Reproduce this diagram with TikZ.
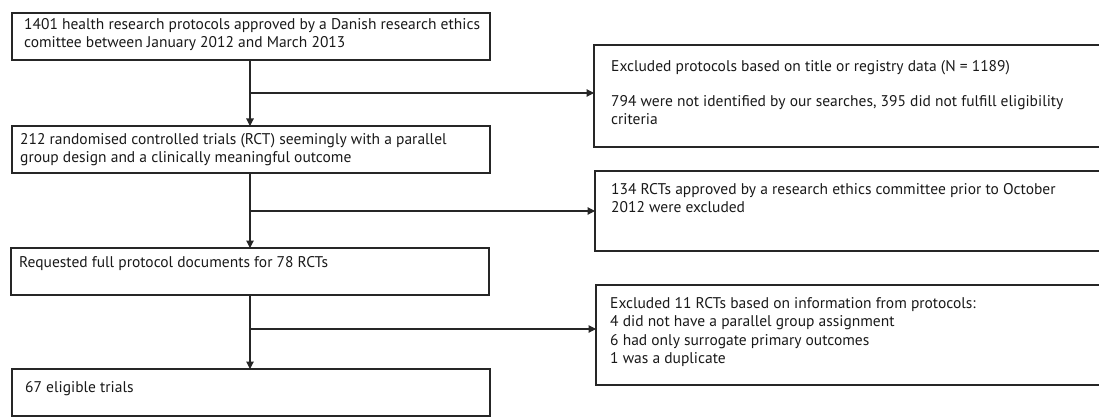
\documentclass[tikz,border=0pt]{standalone}
\usepackage{fontspec}
\setmainfont{PT Sans}
\usepackage{tikz}
\usetikzlibrary{arrows.meta,positioning}

\begin{document}
\begin{tikzpicture}[
      x=1pt, y=-1pt, font=\fontsize{15.5}{18.5}\selectfont,
      >={Triangle[length=7.5pt, width=7.5pt]},
      box/.style={draw=black!85, line width=1.2pt, anchor=north west,
        inner sep=0pt, minimum width=#1, outer sep=0pt},
      txt/.style={anchor=north west, inner sep=0pt, align=left, text=black!90},
    flow/.style={->, line width=1.1pt, draw=black!85}]

    \useasboundingbox (0,0) rectangle (1099,417);

    % ---- main column ----
    \node[box=478pt, minimum height=47pt] (prot) at (12,13) {};
    \node[txt] (protT) at (24,18)
    {1401 health research protocols approved by a Danish research ethics\\
    comittee between January 2012 and March 2013};

    \node[box=478pt, minimum height=47pt] (rct) at (12,126) {};
    \node[txt] (rctT) at (20,133)
    {212 randomised controlled trials (RCT) seemingly with a parallel\\
    group design and a clinically meaningful outcome};

    \node[box=478pt, minimum height=47pt] (req) at (11,248) {};
    \node[txt] (reqT) at (19,256) {Requested full protocol documents for 78 RCTs};

    \node[box=478pt, minimum height=47pt] (elig) at (12,369) {};
    \node[txt] (eligT) at (25,381) {67 eligible trials};

    % ---- exclusion boxes (run off the right edge) ----
    \node[box=511pt, minimum height=102pt] (excA) at (594,45) {};
    \node[txt] (excAT) at (611,60)
    {Excluded protocols based on title or registry data (N = 1189)\\[16.5pt]
    794 were not identified by our searches, 395 did not fulfill eligibility\\
    criteria};

    \node[box=511pt, minimum height=80pt] (excB) at (595,171) {};
    \node[txt] (excBT) at (611,183)
    {134 RCTs approved by a research ethics committee prior to October\\
    2012 were excluded};

    \node[box=511pt, minimum height=100pt] (excC) at (596,285) {};
    \node[txt] (excCT) at (610,297)
    {Excluded 11 RCTs based on information from protocols:\\
    4 did not have a parallel group assignment\\
    6 had only surrogate primary outcomes\\
    1 was a duplicate};

    % ---- junctions on the trunk ----
    \coordinate (j1) at (250,93);
    \coordinate (j2) at (250,211);
    \coordinate (j3) at (250,329);

    % ---- connectors ----
    \draw[flow] (prot.south -| j1) -- (rct.north -| j1);
    \draw[flow] (rct.south -| j2) -- (req.north -| j2);
    \draw[flow] (req.south -| j3) -- (elig.north -| j3);
    \draw[flow] (j1) -- (j1 -| excA.west);
    \draw[flow] (j2) -- (j2 -| excB.west);
    \draw[flow] (j3) -- (j3 -| excC.west);
  \end{tikzpicture}
\end{document}
